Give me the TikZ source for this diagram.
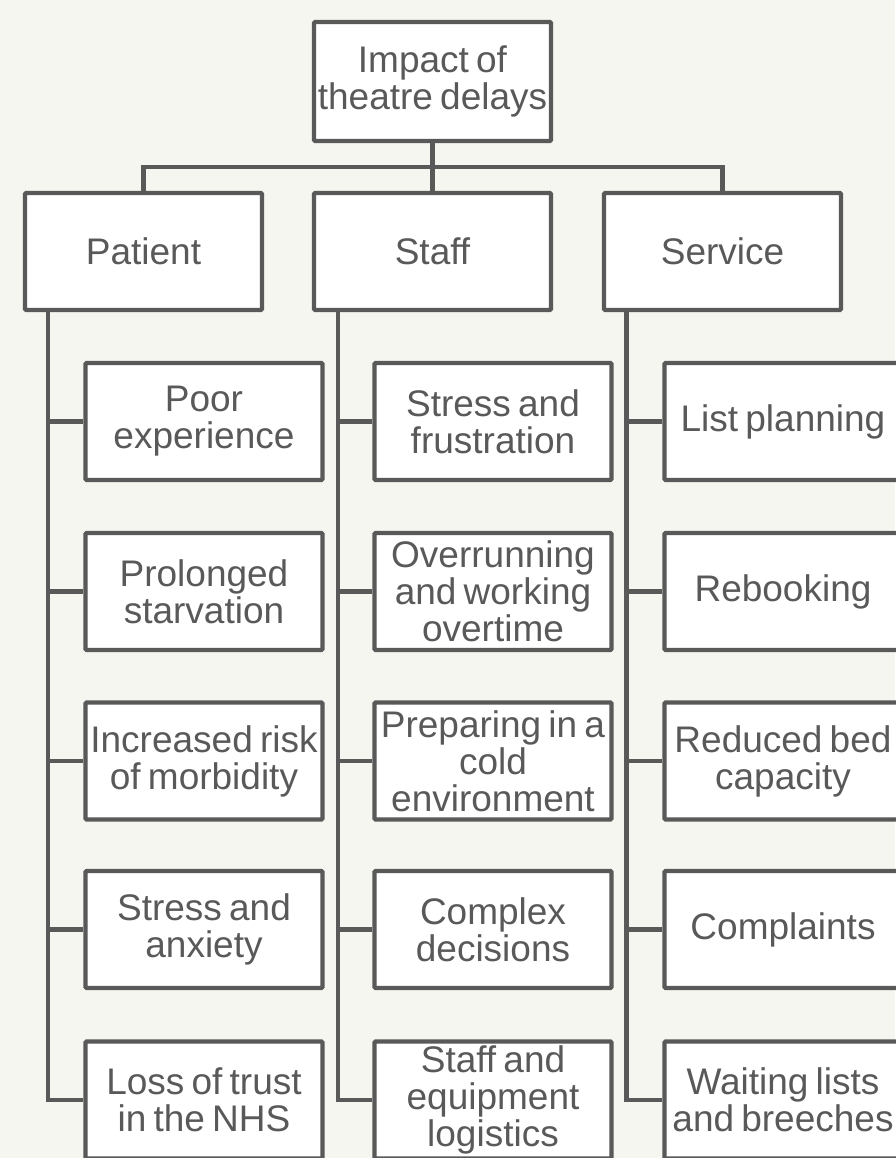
\documentclass[tikz,border=0pt]{standalone}
\usepackage{fontspec}
\setmainfont[WordSpace=0.7]{Liberation Sans}
\definecolor{ink}{HTML}{595959}
\definecolor{bg}{HTML}{F6F6F1}
\begin{document}
\begin{tikzpicture}[x=1pt,y=-1pt,
  box/.style={draw=ink, line width=4.2pt, fill=white, rounded corners=1pt,
    text=ink, align=center, inner sep=0pt,
    font=\fontsize{37}{37}\selectfont},
  topbox/.style={box, minimum width=237pt, minimum height=119pt},
  catbox/.style={box, minimum width=237pt, minimum height=117pt},
  itembox/.style={box, minimum width=237pt, minimum height=117pt},
  link/.style={draw=ink, line width=4.2pt}]
\useasboundingbox (0,0) rectangle (895,1158);
\fill[bg] (0,0) rectangle (895,1158);

\node[topbox] (top) at (432.5,81.5) {Impact of\\theatre delays};

\node[catbox] (pat) at (143.5,251.5) {Patient};
\node[catbox] (sta) at (432.5,251.5) {Staff};
\node[catbox] (ser) at (722.5,251.5) {Service};

\coordinate (bus) at (432.5,167);
\draw[link] (top.south) -- (bus);
\draw[link] (pat.north) |- (bus) -| (ser.north);
\draw[link] (bus) -- (sta.north);

% Patient items
\node[itembox] (p1) at (204,421.5) {Poor\\experience};
\node[itembox] (p2) at (204,591.5) {Prolonged\\starvation};
\node[itembox] (p3) at (204,761) {Increased risk\\of morbidity};
\node[itembox] (p4) at (204,929.5) {Stress and\\anxiety};
\node[itembox] (p5) at (204,1100) {Loss of trust\\in the NHS};

% Staff items
\node[itembox] (s1) at (493,421.5) {Stress and\\frustration};
\node[itembox] (s2) at (493,591.5) {Overrunning\\and working\\overtime};
\node[itembox] (s3) at (493,761) {Preparing in a\\cold\\environment};
\node[itembox] (s4) at (493,929.5) {Complex\\decisions};
\node[itembox] (s5) at (493,1100) {Staff and\\equipment\\logistics};

% Service items
\node[itembox] (v1) at (783,421.5) {List planning};
\node[itembox] (v2) at (783,591.5) {Rebooking};
\node[itembox] (v3) at (783,761) {Reduced bed\\capacity};
\node[itembox] (v4) at (783,929.5) {Complaints};
\node[itembox] (v5) at (783,1100) {Waiting lists\\and breeches};

% connectors
\coordinate (pl) at (48,0);
\coordinate (sl) at (338,0);
\coordinate (vl) at (626.5,0);
\draw[link] (pl |- pat.south) -- (pl |- p5.west) -- (p5.west);
\foreach \n in {p1,p2,p3,p4} \draw[link] (pl |- \n.west) -- (\n.west);
\draw[link] (sl |- sta.south) -- (sl |- s5.west) -- (s5.west);
\foreach \n in {s1,s2,s3,s4} \draw[link] (sl |- \n.west) -- (\n.west);
\draw[link] (vl |- ser.south) -- (vl |- v5.west) -- (v5.west);
\foreach \n in {v1,v2,v3,v4} \draw[link] (vl |- \n.west) -- (\n.west);
\end{tikzpicture}
\end{document}
